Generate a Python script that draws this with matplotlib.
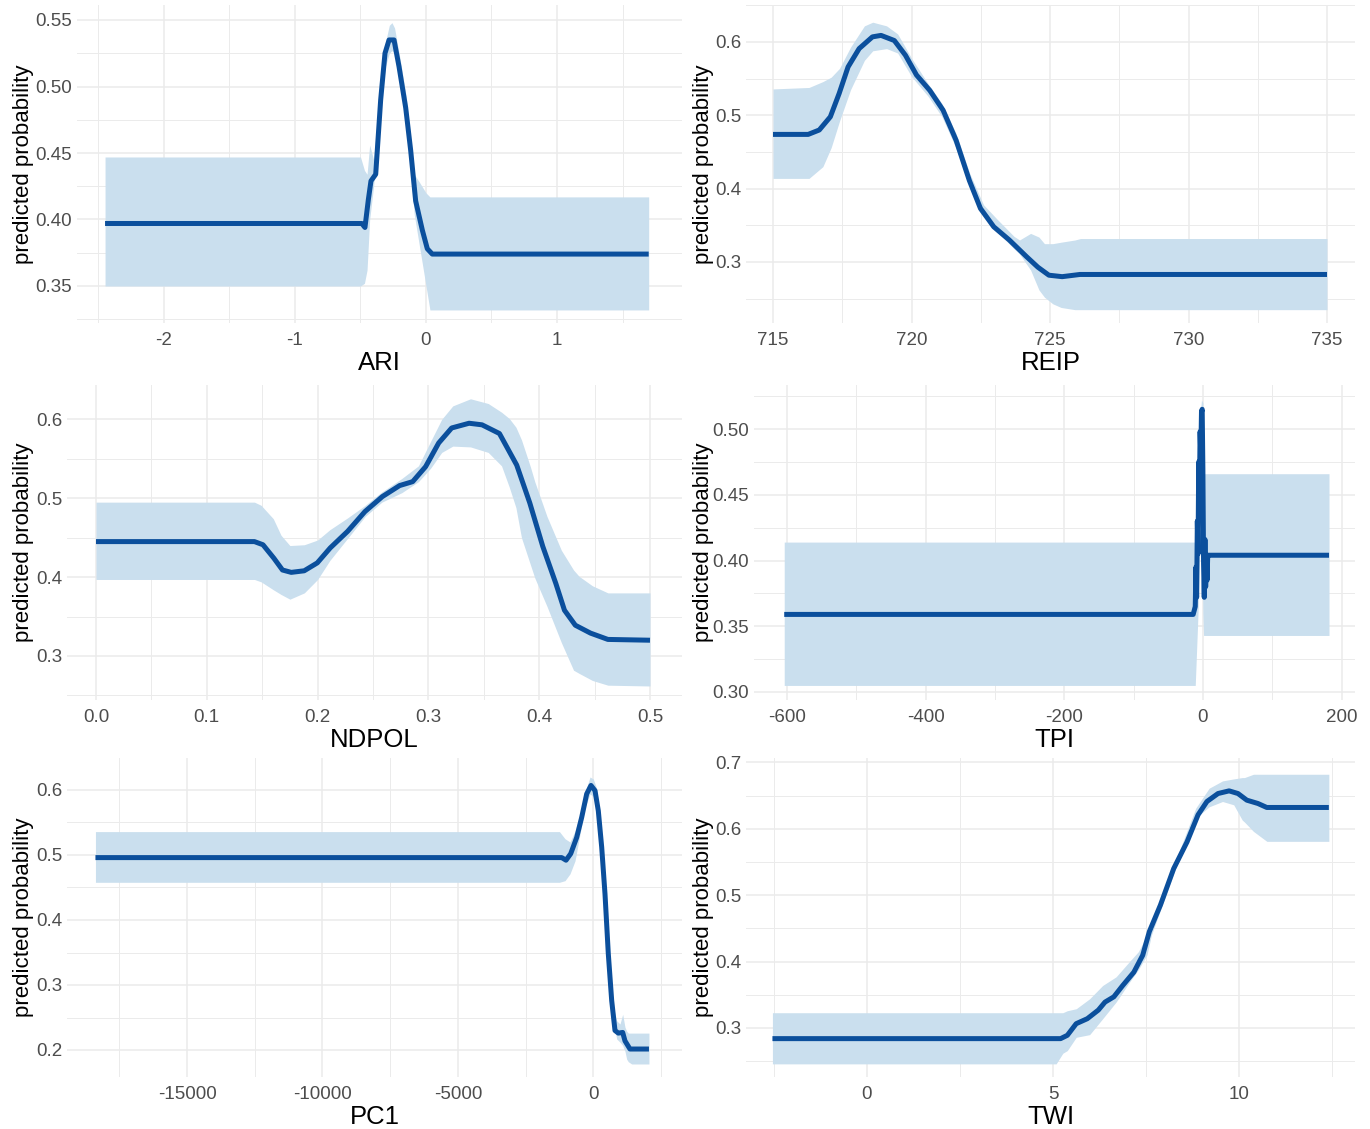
import matplotlib
matplotlib.use('Agg')
import matplotlib.pyplot as plt
from matplotlib.ticker import FixedLocator, FixedFormatter, MultipleLocator

# ---------------- data ----------------
ari_x = [-2.45, -0.49, -0.466, -0.44, -0.42, -0.384, -0.346, -0.313, -0.282, -0.244, -0.206,
         -0.155, -0.117, -0.079, -0.028, 0.010, 0.048, 1.70]
ari_y = [0.397, 0.397, 0.394, 0.415, 0.429, 0.434, 0.490, 0.525, 0.535, 0.535, 0.515,
         0.484, 0.452, 0.414, 0.392, 0.378, 0.374, 0.374]
ari_bx = [-2.45, -0.50, -0.47, -0.45, -0.43, -0.40, -0.35, -0.31, -0.28, -0.26, -0.24,
          -0.20, -0.15, -0.12, -0.09, -0.05, 0.0, 0.03, 0.05, 1.70]
ari_lo = [0.350, 0.350, 0.352, 0.362, 0.400, 0.425, 0.482, 0.515, 0.525, 0.527, 0.525,
          0.506, 0.477, 0.440, 0.404, 0.380, 0.350, 0.332, 0.332, 0.332]
ari_hi = [0.447, 0.447, 0.437, 0.434, 0.456, 0.445, 0.497, 0.533, 0.546, 0.548, 0.544,
          0.522, 0.492, 0.462, 0.434, 0.428, 0.420, 0.417, 0.417, 0.417]

reip_x = [715, 716.27, 716.67, 717.07, 717.39, 717.71, 718.11, 718.59, 718.90, 719.38, 719.78,
          720.18, 720.66, 721.14, 721.61, 722.09, 722.49, 722.97, 723.53, 724.16, 724.56,
          724.96, 725.44, 726.08, 735]
reip_y = [0.474, 0.474, 0.480, 0.498, 0.530, 0.566, 0.591, 0.607, 0.609, 0.602, 0.582,
          0.555, 0.534, 0.507, 0.466, 0.411, 0.373, 0.348, 0.330, 0.307, 0.293,
          0.282, 0.280, 0.283, 0.283]
reip_bx = [715, 716.3, 716.8, 717.1, 717.4, 717.8, 718.3, 718.6, 719.1, 719.5, 720.0, 720.6,
           721.1, 721.6, 722.1, 722.6, 723.1, 723.7, 723.9, 724.3, 724.6, 724.8, 725.1,
           725.4, 725.9, 726.1, 735]
reip_hi = [0.536, 0.538, 0.546, 0.552, 0.564, 0.593, 0.622, 0.627, 0.622, 0.611, 0.578, 0.543,
           0.516, 0.476, 0.421, 0.378, 0.358, 0.335, 0.330, 0.339, 0.334, 0.325, 0.325,
           0.327, 0.330, 0.332, 0.332]
reip_lo = [0.414, 0.414, 0.430, 0.456, 0.492, 0.535, 0.575, 0.588, 0.591, 0.585, 0.553, 0.526,
           0.498, 0.456, 0.402, 0.363, 0.341, 0.318, 0.311, 0.289, 0.262, 0.252, 0.243,
           0.238, 0.235, 0.235, 0.235]

ndpol_x = [0, 0.143, 0.1507, 0.1605, 0.1683, 0.1762, 0.1879, 0.1997, 0.2114, 0.2271, 0.2427,
           0.2584, 0.274, 0.2858, 0.2975, 0.3093, 0.321, 0.3367, 0.3484, 0.3641, 0.3797,
           0.3915, 0.4032, 0.415, 0.4228, 0.4326, 0.4463, 0.462, 0.5]
ndpol_y = [0.445, 0.445, 0.441, 0.424, 0.409, 0.406, 0.408, 0.418, 0.437, 0.458, 0.483,
           0.502, 0.516, 0.521, 0.540, 0.570, 0.589, 0.595, 0.593, 0.582, 0.542,
           0.494, 0.439, 0.392, 0.358, 0.339, 0.329, 0.321, 0.320]
ndpol_bx = [0, 0.143, 0.149, 0.160, 0.167, 0.175, 0.188, 0.200, 0.211, 0.227, 0.243, 0.258,
            0.276, 0.291, 0.302, 0.312, 0.322, 0.338, 0.354, 0.366, 0.373, 0.379, 0.384,
            0.392, 0.396, 0.407, 0.420, 0.431, 0.436, 0.448, 0.462, 0.5]
ndpol_hi = [0.495, 0.495, 0.491, 0.474, 0.453, 0.440, 0.441, 0.447, 0.460, 0.475, 0.491, 0.508,
            0.525, 0.541, 0.572, 0.600, 0.617, 0.626, 0.620, 0.609, 0.601, 0.590, 0.574,
            0.540, 0.521, 0.477, 0.434, 0.409, 0.401, 0.389, 0.380, 0.380]
ndpol_lo = [0.397, 0.397, 0.394, 0.384, 0.378, 0.372, 0.380, 0.397, 0.421, 0.449, 0.477, 0.495,
            0.507, 0.521, 0.538, 0.558, 0.566, 0.565, 0.558, 0.541, 0.514, 0.488, 0.450,
            0.416, 0.399, 0.363, 0.317, 0.282, 0.278, 0.269, 0.263, 0.262]

tpi_x = [-604, -14, -11, -10, -9, -8, -7, -6, -5, -4, -3, -2, -1, 0, 1, 2, 3, 4, 5, 6, 7, 9, 182]
tpi_y = [0.359, 0.359, 0.365, 0.395, 0.372, 0.430, 0.405, 0.475, 0.450, 0.498, 0.480, 0.513,
         0.515, 0.470, 0.398, 0.372, 0.416, 0.380, 0.404, 0.385, 0.404, 0.404, 0.404]
tpi_bx = [-604, -11, -7, -5, -2, 0, 1, 3, 6, 182]
tpi_hi = [0.414, 0.414, 0.440, 0.505, 0.522, 0.520, 0.466, 0.466, 0.466, 0.466]
tpi_lo = [0.305, 0.305, 0.360, 0.400, 0.440, 0.360, 0.343, 0.343, 0.343, 0.343]

pc1_x = [-18380, -1166, -1007, -834, -613, -428, -244, -85, 63, 185, 310, 432, 554, 679, 801,
         923, 1085, 1170, 1354, 2055]
pc1_y = [0.496, 0.496, 0.492, 0.502, 0.527, 0.558, 0.594, 0.607, 0.599, 0.568, 0.512, 0.440,
         0.348, 0.276, 0.230, 0.226, 0.227, 0.214, 0.2015, 0.2015]
pc1_bx = [-18380, -1250, -1045, -860, -675, -491, -306, -122, 0, 125, 247, 369, 494, 616, 738,
          863, 985, 1085, 1170, 1231, 1292, 1416, 2055]
pc1_hi = [0.536, 0.536, 0.525, 0.520, 0.537, 0.563, 0.596, 0.620, 0.617, 0.602, 0.558, 0.491,
          0.404, 0.327, 0.266, 0.245, 0.240, 0.255, 0.235, 0.229, 0.226, 0.226, 0.226]
pc1_lo = [0.458, 0.458, 0.4605, 0.471, 0.491, 0.532, 0.573, 0.594, 0.590, 0.575, 0.530, 0.460,
          0.380, 0.300, 0.245, 0.217, 0.212, 0.207, 0.198, 0.186, 0.182, 0.1785, 0.1785]

twi_x = [-2.54, 5.2, 5.381, 5.619, 5.917, 6.214, 6.393, 6.631, 6.869, 7.167, 7.405, 7.583,
         7.881, 8.238, 8.595, 8.893, 9.131, 9.429, 9.726, 9.964, 10.202, 10.5, 10.738, 12.405]
twi_y = [0.284, 0.284, 0.289, 0.3065, 0.314, 0.327, 0.339, 0.347, 0.364, 0.384, 0.4095, 0.445,
         0.485, 0.540, 0.580, 0.621, 0.641, 0.653, 0.657, 0.653, 0.643, 0.638, 0.632, 0.632]
twi_bx = [-2.54, 5.08, 5.26, 5.38, 5.62, 5.98, 6.33, 6.69, 7.05, 7.29, 7.52, 7.64, 8.24, 8.83,
          9.19, 9.55, 9.85, 10.08, 10.14, 10.38, 10.74, 12.405]
twi_hi = [0.323, 0.323, 0.323, 0.326, 0.329, 0.344, 0.364, 0.377, 0.400, 0.415, 0.440, 0.460,
          0.545, 0.631, 0.661, 0.672, 0.675, 0.677, 0.677, 0.682, 0.682, 0.682]
twi_lo = [0.246, 0.246, 0.262, 0.266, 0.286, 0.290, 0.314, 0.339, 0.369, 0.388, 0.410, 0.440,
          0.533, 0.616, 0.633, 0.641, 0.636, 0.613, 0.610, 0.596, 0.581, 0.581]

ari_xticks = [-2, -1, 0, 1]
ari_xlabels = ['-2', '-1', '0', '1']
ari_yticks = [0.35, 0.40, 0.45, 0.50, 0.55]
ari_ylabels = ['0.35', '0.40', '0.45', '0.50', '0.55']
reip_xticks = [715, 720, 725, 730, 735]
reip_xlabels = ['715', '720', '725', '730', '735']
reip_yticks = [0.3, 0.4, 0.5, 0.6]
reip_ylabels = ['0.3', '0.4', '0.5', '0.6']
ndpol_xticks = [0.0, 0.1, 0.2, 0.3, 0.4, 0.5]
ndpol_xlabels = ['0.0', '0.1', '0.2', '0.3', '0.4', '0.5']
ndpol_yticks = [0.3, 0.4, 0.5, 0.6]
ndpol_ylabels = ['0.3', '0.4', '0.5', '0.6']
tpi_xticks = [-600, -400, -200, 0, 200]
tpi_xlabels = ['-600', '-400', '-200', '0', '200']
tpi_yticks = [0.30, 0.35, 0.40, 0.45, 0.50]
tpi_ylabels = ['0.30', '0.35', '0.40', '0.45', '0.50']
pc1_xticks = [-15000, -10000, -5000, 0]
pc1_xlabels = ['-15000', '-10000', '-5000', '0']
pc1_yticks = [0.2, 0.3, 0.4, 0.5, 0.6]
pc1_ylabels = ['0.2', '0.3', '0.4', '0.5', '0.6']
twi_xticks = [0, 5, 10]
twi_xlabels = ['0', '5', '10']
twi_yticks = [0.3, 0.4, 0.5, 0.6, 0.7]
twi_ylabels = ['0.3', '0.4', '0.5', '0.6', '0.7']

# ---------------- style / layout ----------------
plt.rcParams['font.family'] = ['Liberation Sans', 'DejaVu Sans']
plt.rcParams['axes.unicode_minus'] = False

W, H = 1370, 1129
LINE_C = '#0B4F9C'
FILL_C = '#CADFEE'
GRID_C = '#EBEBEB'
TICK_C = '#4D4D4D'

fig = plt.figure(figsize=(W / 100, H / 100), dpi=100)
fig.patch.set_facecolor('white')

# box = (left, right, top, bottom) px ; xref/yref = two (value, pixel) anchors
panels = [
    dict(name='ARI', x=ari_x, y=ari_y, bx=ari_bx, lo=ari_lo, hi=ari_hi,
         xt=ari_xticks, xl=ari_xlabels, yt=ari_yticks, yl=ari_ylabels,
         xmin=0.5, ymin=0.025, box=(77, 682, 5, 323),
         xref=((-2, 164), (1, 557)), yref=((0.55, 20), (0.35, 286)), ylab=24),
    dict(name='REIP', x=reip_x, y=reip_y, bx=reip_bx, lo=reip_lo, hi=reip_hi,
         xt=reip_xticks, xl=reip_xlabels, yt=reip_yticks, yl=reip_ylabels,
         xmin=2.5, ymin=0.05, box=(746, 1355, 5, 323),
         xref=((715, 773), (735, 1327)), yref=((0.6, 42), (0.3, 262)), ylab=704),
    dict(name='NDPOL', x=ndpol_x, y=ndpol_y, bx=ndpol_bx, lo=ndpol_lo, hi=ndpol_hi,
         xt=ndpol_xticks, xl=ndpol_xlabels, yt=ndpol_yticks, yl=ndpol_ylabels,
         xmin=0.05, ymin=0.05, box=(67, 682, 385, 700),
         xref=((0.0, 96), (0.5, 650)), yref=((0.6, 419.3), (0.3, 656)), ylab=24),
    dict(name='TPI', x=tpi_x, y=tpi_y, bx=tpi_bx, lo=tpi_lo, hi=tpi_hi,
         xt=tpi_xticks, xl=tpi_xlabels, yt=tpi_yticks, yl=tpi_ylabels,
         xmin=100, ymin=0.025, box=(754, 1355, 385, 700),
         xref=((-600, 787), (200, 1341.5)), yref=((0.5, 429), (0.3, 692)), ylab=704),
    dict(name='PC1', x=pc1_x, y=pc1_y, bx=pc1_bx, lo=pc1_lo, hi=pc1_hi,
         xt=pc1_xticks, xl=pc1_xlabels, yt=pc1_yticks, yl=pc1_ylabels,
         xmin=2500, ymin=0.05, box=(67, 682, 758, 1077),
         xref=((-15000, 187), (0, 593.3)), yref=((0.6, 790), (0.2, 1050)), ylab=24),
    dict(name='TWI', x=twi_x, y=twi_y, bx=twi_bx, lo=twi_lo, hi=twi_hi,
         xt=twi_xticks, xl=twi_xlabels, yt=twi_yticks, yl=twi_ylabels,
         xmin=2.5, ymin=0.05, box=(746, 1355, 758, 1077),
         xref=((0, 867), (10, 1239.3)), yref=((0.7, 762.3), (0.3, 1028)), ylab=704),
]


def pix2val(ref, p):
    (v1, p1), (v2, p2) = ref
    return v1 + (p - p1) * (v2 - v1) / (p2 - p1)


for P in panels:
    L, R, T, B = P['box']
    ax = fig.add_axes([L / W, 1 - B / H, (R - L) / W, (B - T) / H])
    ax.set_facecolor('white')
    for s in ax.spines.values():
        s.set_visible(False)
    ax.set_axisbelow(True)

    ax.fill_between(P['bx'], P['lo'], P['hi'], color=FILL_C, lw=0, zorder=2)
    ax.plot(P['x'], P['y'], color=LINE_C, lw=3.6, solid_joinstyle='round',
            solid_capstyle='butt', zorder=3)

    ax.set_xlim(pix2val(P['xref'], L), pix2val(P['xref'], R))
    ax.set_ylim(pix2val(P['yref'], B), pix2val(P['yref'], T))

    ax.xaxis.set_major_locator(FixedLocator(P['xt']))
    ax.xaxis.set_major_formatter(FixedFormatter(P['xl']))
    ax.yaxis.set_major_locator(FixedLocator(P['yt']))
    ax.yaxis.set_major_formatter(FixedFormatter(P['yl']))
    ax.xaxis.set_minor_locator(MultipleLocator(P['xmin']))
    ax.yaxis.set_minor_locator(MultipleLocator(P['ymin']))

    ax.grid(which='major', color=GRID_C, lw=1.1)
    ax.grid(which='minor', color=GRID_C, lw=0.7)
    ax.tick_params(which='both', length=0)
    ax.tick_params(axis='x', which='major', labelsize=13.5, labelcolor=TICK_C, pad=6.5)
    ax.tick_params(axis='y', which='major', labelsize=13.5, labelcolor=TICK_C, pad=3.5)

    ax.set_xlabel(P['name'], fontsize=18.5, color='black', va='baseline')
    ax.xaxis.set_label_coords(0.5, -47 / (B - T))
    ax.set_ylabel('predicted probability', fontsize=16, color='black', va='center')
    ax.yaxis.set_label_coords((P['ylab'] - L) / (R - L), 0.5)

fig.savefig('out.png', dpi=100, facecolor='white')
